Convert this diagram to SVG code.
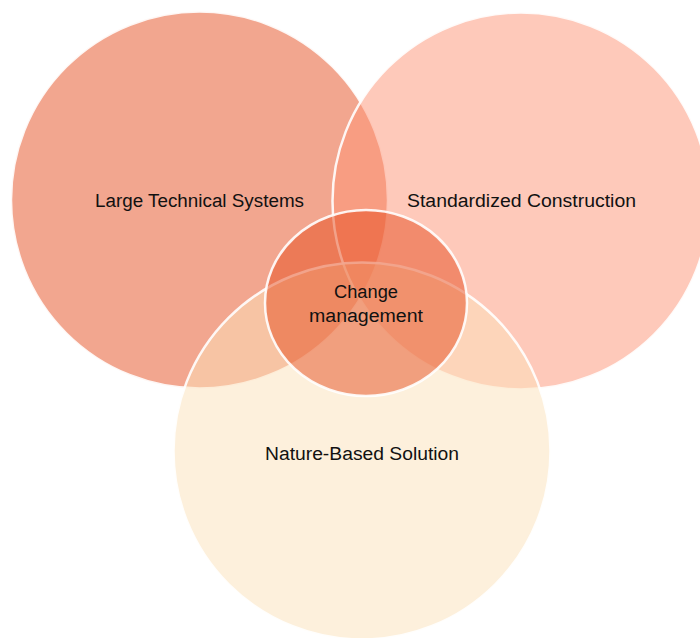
<svg xmlns="http://www.w3.org/2000/svg" width="700" height="638" viewBox="0 0 700 638">
  <style>
    .ring { stroke: #ffffff; stroke-width: 2.5; stroke-opacity: 0.9; }
    .label { font-family: "Liberation Sans", "Open Sans", sans-serif; font-size: 18px; fill: #111111; text-anchor: middle; }
  </style>
  <rect width="700" height="638" fill="#ffffff"/>
  <g id="large-technical-systems">
    <circle class="ring" cx="199.5" cy="200" r="188.5" fill="rgb(229,77,31)" fill-opacity="0.5"/>
  </g>
  <g id="standardized-construction">
    <circle class="ring" cx="521" cy="201" r="188.5" fill="rgb(253,147,117)" fill-opacity="0.5"/>
  </g>
  <g id="nature-based-solution">
    <circle class="ring" cx="362" cy="451" r="188.5" fill="rgb(251,225,185)" fill-opacity="0.5"/>
  </g>
  <g id="change-management">
    <ellipse class="ring" cx="366" cy="303" rx="101" ry="93" fill="rgb(229,77,31)" fill-opacity="0.5"/>
  </g>
  <g id="labels">
    <text class="label" x="199.5" y="206.5" textLength="209" lengthAdjust="spacingAndGlyphs">Large Technical Systems</text>
    <text class="label" x="521.5" y="206.5" textLength="229" lengthAdjust="spacingAndGlyphs">Standardized Construction</text>
    <text class="label" x="362" y="459.5" textLength="194" lengthAdjust="spacingAndGlyphs">Nature-Based Solution</text>
    <text class="label" x="366" y="297.5" textLength="64" lengthAdjust="spacingAndGlyphs">Change</text>
    <text class="label" x="366" y="321.5" textLength="114" lengthAdjust="spacingAndGlyphs">management</text>
  </g>
</svg>
